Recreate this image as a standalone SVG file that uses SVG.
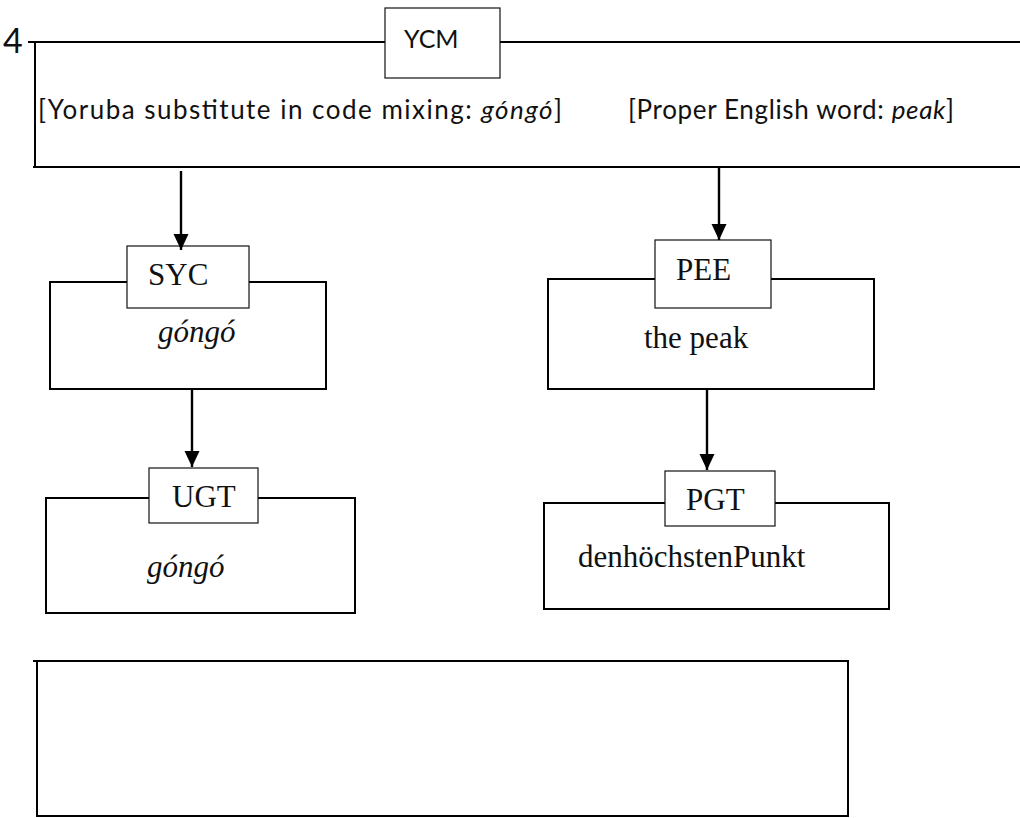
<svg xmlns="http://www.w3.org/2000/svg" width="1020" height="818" viewBox="0 0 1020 818">
  <style>
    .frame { fill: none; stroke: #000; stroke-width: 2; }
    .tag { fill: #fff; stroke: #111; stroke-width: 1.2; }
    .conn { stroke: #000; stroke-width: 2.4; fill: none; marker-end: url(#arrow); }
    .sans { font-family: Lato, "Open Sans", "Liberation Sans", sans-serif; font-size: 26px; fill: #111; }
    .serif { font-family: "Liberation Serif", "Times New Roman", serif; font-size: 31px; fill: #111; }
    .it { font-style: italic; }
  </style>
  <defs>
    <marker id="arrow" viewBox="0 0 16 16" refX="16" refY="8" markerWidth="16" markerHeight="16" markerUnits="userSpaceOnUse" orient="auto">
      <path d="M0,0.5 L16,8 L0,15.5 Z" fill="#000"/>
    </marker>
  </defs>

  <text class="sans" x="3" y="53" style="font-size:34px">4</text>

  <!-- YCM: open frame running to the right edge -->
  <g id="ycm">
    <path class="frame" d="M28,42 H1020 M35,42 V167 M33,167 H1020"/>
    <rect class="tag" x="385" y="8" width="115" height="70"/>
    <text class="sans" x="404" y="48" style="font-size:25px">YCM</text>
    <text class="sans" x="38" y="119" textLength="524" lengthAdjust="spacing">[Yoruba substitute in code mixing: <tspan class="it">góngó</tspan>]</text>
    <text class="sans" x="628" y="119" textLength="326" lengthAdjust="spacing">[Proper English word: <tspan class="it">peak</tspan>]</text>
  </g>

  <g id="syc">
    <path class="frame" d="M50,282 H326 V389 H50 Z"/>
    <rect class="tag" x="127" y="246" width="122" height="62"/>
    <text class="serif" x="148" y="285">SYC</text>
    <text class="serif it" x="158" y="342">góngó</text>
  </g>

  <g id="ugt">
    <path class="frame" d="M46,498 H355 V613 H46 Z"/>
    <rect class="tag" x="149" y="468" width="109" height="55"/>
    <text class="serif" x="172" y="507">UGT</text>
    <text class="serif it" x="147" y="577">góngó</text>
  </g>

  <g id="pee">
    <path class="frame" d="M548,279 H874 V389 H548 Z"/>
    <rect class="tag" x="655" y="240" width="116" height="68"/>
    <text class="serif" x="676" y="280">PEE</text>
    <text class="serif" x="644" y="348">the peak</text>
  </g>

  <g id="pgt">
    <path class="frame" d="M544,503 H889 V609 H544 Z"/>
    <rect class="tag" x="665" y="471" width="110" height="55"/>
    <text class="serif" x="686" y="510">PGT</text>
    <text class="serif" x="578" y="567">denhöchstenPunkt</text>
  </g>

  <g id="blank">
    <path class="frame" d="M33,661 H848 V816 H37 V661"/>
  </g>

  <g id="connectors">
    <line class="conn" x1="181" y1="171" x2="181" y2="250"/>
    <line class="conn" x1="719" y1="167" x2="719" y2="240"/>
    <line class="conn" x1="192" y1="389" x2="192" y2="467"/>
    <line class="conn" x1="707" y1="389" x2="707" y2="470"/>
  </g>
</svg>
